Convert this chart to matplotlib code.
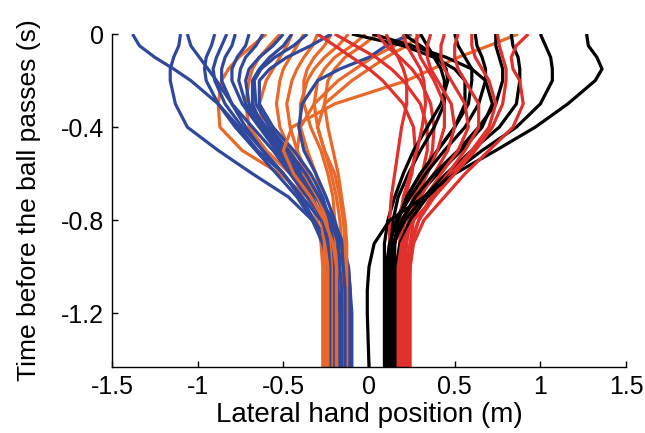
import numpy as np
import matplotlib
matplotlib.use("Agg")
import matplotlib.pyplot as plt

plt.rcParams['font.family'] = ['Liberation Sans', 'DejaVu Sans']

# time levels (s) shared by every trajectory
t = [0, -0.05, -0.1, -0.15, -0.2, -0.3, -0.4, -0.5, -0.6, -0.7, -0.8, -0.9, -1.0, -1.1, -1.2, -1.43]

# lateral hand position (m) at each time level, one row per trial
blue = [
    [-1.38, -1.34, -1.25, -1.14, -1.04, -0.88, -0.76, -0.65, -0.50, -0.40, -0.32, -0.23, -0.18, -0.16, -0.15, -0.15],
    [-1.10, -1.11, -1.14, -1.16, -1.16, -1.13, -1.06, -0.88, -0.68, -0.47, -0.33, -0.26, -0.23, -0.22, -0.21, -0.21],
    [-1.06, -1.04, -0.99, -0.94, -0.89, -0.80, -0.72, -0.62, -0.50, -0.40, -0.32, -0.24, -0.19, -0.18, -0.17, -0.17],
    [-0.90, -0.92, -0.95, -0.96, -0.95, -0.88, -0.78, -0.66, -0.54, -0.42, -0.33, -0.27, -0.24, -0.23, -0.23, -0.23],
    [-0.83, -0.86, -0.89, -0.91, -0.90, -0.84, -0.74, -0.62, -0.50, -0.39, -0.28, -0.19, -0.15, -0.14, -0.13, -0.13],
    [-0.78, -0.80, -0.84, -0.86, -0.86, -0.80, -0.68, -0.56, -0.46, -0.36, -0.26, -0.17, -0.12, -0.11, -0.10, -0.10],
    [-0.70, -0.72, -0.77, -0.80, -0.80, -0.74, -0.64, -0.54, -0.44, -0.34, -0.27, -0.22, -0.20, -0.19, -0.19, -0.19],
    [-0.62, -0.66, -0.72, -0.75, -0.76, -0.72, -0.62, -0.50, -0.40, -0.31, -0.23, -0.16, -0.13, -0.12, -0.12, -0.12],
    [-0.50, -0.56, -0.64, -0.70, -0.72, -0.70, -0.60, -0.48, -0.38, -0.29, -0.21, -0.15, -0.12, -0.11, -0.11, -0.11],
    [-0.45, -0.50, -0.58, -0.64, -0.68, -0.68, -0.62, -0.52, -0.42, -0.33, -0.27, -0.24, -0.22, -0.22, -0.22, -0.22],
    [-0.36, -0.44, -0.55, -0.63, -0.67, -0.66, -0.58, -0.47, -0.37, -0.29, -0.22, -0.18, -0.17, -0.16, -0.16, -0.16],
    [-0.22, -0.34, -0.48, -0.58, -0.64, -0.64, -0.56, -0.44, -0.34, -0.27, -0.23, -0.21, -0.20, -0.20, -0.20, -0.20],
    [0.24, 0.10, 0.00, -0.17, -0.30, -0.39, -0.41, -0.38, -0.31, -0.25, -0.20, -0.16, -0.15, -0.14, -0.14, -0.14],
]

orange = [
    [-0.60, -0.68, -0.76, -0.82, -0.86, -0.88, -0.87, -0.74, -0.52, -0.36, -0.24, -0.19, -0.18, -0.18, -0.18, -0.18],
    [-0.52, -0.58, -0.64, -0.68, -0.70, -0.72, -0.70, -0.60, -0.46, -0.36, -0.30, -0.28, -0.27, -0.27, -0.27, -0.27],
    [-0.45, -0.48, -0.52, -0.56, -0.60, -0.64, -0.62, -0.54, -0.42, -0.33, -0.28, -0.26, -0.25, -0.25, -0.25, -0.25],
    [-0.38, -0.42, -0.46, -0.50, -0.52, -0.54, -0.52, -0.46, -0.38, -0.30, -0.26, -0.25, -0.24, -0.24, -0.24, -0.24],
    [-0.30, -0.33, -0.38, -0.42, -0.45, -0.48, -0.46, -0.42, -0.36, -0.30, -0.25, -0.23, -0.22, -0.22, -0.22, -0.22],
    [-0.22, -0.26, -0.32, -0.36, -0.38, -0.38, -0.34, -0.28, -0.24, -0.21, -0.20, -0.20, -0.20, -0.20, -0.20, -0.20],
    [-0.12, -0.18, -0.26, -0.32, -0.36, -0.40, -0.40, -0.36, -0.31, -0.28, -0.27, -0.26, -0.26, -0.26, -0.26, -0.26],
    [-0.02, -0.10, -0.20, -0.26, -0.30, -0.32, -0.30, -0.26, -0.22, -0.19, -0.17, -0.16, -0.15, -0.15, -0.15, -0.15],
    [0.05, -0.04, -0.14, -0.20, -0.24, -0.26, -0.24, -0.21, -0.18, -0.16, -0.14, -0.13, -0.13, -0.13, -0.13, -0.13],
    [0.25, 0.15, 0.02, -0.08, -0.18, -0.32, -0.40, -0.42, -0.38, -0.30, -0.24, -0.22, -0.21, -0.21, -0.21, -0.21],
    [0.31, 0.22, 0.10, 0.00, -0.10, -0.26, -0.30, -0.26, -0.20, -0.17, -0.15, -0.14, -0.14, -0.14, -0.14, -0.14],
    [0.87, 0.70, 0.52, 0.37, 0.22, -0.20, -0.45, -0.50, -0.44, -0.34, -0.26, -0.21, -0.19, -0.19, -0.19, -0.19],
]

red = [
    [-0.30, -0.20, -0.10, 0.00, 0.08, 0.20, 0.26, 0.27, 0.25, 0.21, 0.17, 0.15, 0.14, 0.14, 0.14, 0.14],
    [-0.20, -0.08, 0.04, 0.13, 0.20, 0.30, 0.34, 0.34, 0.31, 0.26, 0.21, 0.18, 0.16, 0.16, 0.16, 0.16],
    [0.05, 0.10, 0.18, 0.25, 0.30, 0.36, 0.38, 0.37, 0.33, 0.28, 0.23, 0.20, 0.19, 0.19, 0.19, 0.19],
    [0.10, 0.13, 0.17, 0.20, 0.22, 0.22, 0.19, 0.17, 0.15, 0.13, 0.12, 0.12, 0.12, 0.12, 0.12, 0.12],
    [0.20, 0.22, 0.26, 0.30, 0.32, 0.33, 0.31, 0.28, 0.24, 0.20, 0.18, 0.18, 0.18, 0.18, 0.18, 0.18],
    [0.28, 0.28, 0.30, 0.34, 0.38, 0.44, 0.44, 0.40, 0.34, 0.28, 0.24, 0.22, 0.21, 0.21, 0.21, 0.21],
    [0.36, 0.34, 0.34, 0.36, 0.40, 0.48, 0.50, 0.46, 0.38, 0.30, 0.26, 0.24, 0.23, 0.23, 0.23, 0.23],
    [0.44, 0.42, 0.42, 0.44, 0.48, 0.56, 0.58, 0.52, 0.42, 0.33, 0.25, 0.21, 0.20, 0.20, 0.20, 0.20],
    [0.52, 0.50, 0.50, 0.52, 0.56, 0.64, 0.64, 0.56, 0.46, 0.36, 0.29, 0.25, 0.24, 0.24, 0.24, 0.24],
    [0.60, 0.60, 0.62, 0.66, 0.70, 0.74, 0.70, 0.60, 0.48, 0.38, 0.29, 0.24, 0.22, 0.22, 0.22, 0.22],
    [0.75, 0.76, 0.78, 0.80, 0.80, 0.78, 0.72, 0.62, 0.50, 0.38, 0.26, 0.19, 0.17, 0.17, 0.17, 0.17],
    [0.93, 0.86, 0.83, 0.84, 0.88, 0.90, 0.84, 0.70, 0.56, 0.44, 0.32, 0.26, 0.24, 0.23, 0.23, 0.23],
]

black = [
    [-0.10, 0.20, 0.38, 0.50, 0.56, 0.56, 0.50, 0.40, 0.30, 0.22, 0.16, 0.12, 0.10, 0.10, 0.10, 0.10],
    [0.02, 0.25, 0.45, 0.60, 0.68, 0.72, 0.66, 0.54, 0.40, 0.28, 0.19, 0.14, 0.12, 0.12, 0.12, 0.12],
    [0.20, 0.30, 0.40, 0.45, 0.46, 0.42, 0.34, 0.26, 0.20, 0.15, 0.11, 0.09, 0.09, 0.09, 0.09, 0.09],
    [0.30, 0.34, 0.38, 0.42, 0.44, 0.44, 0.38, 0.30, 0.23, 0.17, 0.14, 0.13, 0.13, 0.13, 0.13, 0.13],
    [0.50, 0.52, 0.56, 0.60, 0.60, 0.58, 0.50, 0.40, 0.30, 0.22, 0.17, 0.15, 0.15, 0.15, 0.15, 0.15],
    [0.62, 0.63, 0.66, 0.68, 0.68, 0.64, 0.56, 0.44, 0.33, 0.24, 0.16, 0.12, 0.11, 0.11, 0.11, 0.11],
    [0.74, 0.74, 0.76, 0.78, 0.78, 0.74, 0.64, 0.52, 0.38, 0.27, 0.19, 0.15, 0.14, 0.14, 0.14, 0.14],
    [0.83, 0.84, 0.87, 0.88, 0.88, 0.86, 0.76, 0.60, 0.45, 0.32, 0.21, 0.14, 0.12, 0.12, 0.12, 0.12],
    [1.00, 1.03, 1.06, 1.07, 1.07, 1.00, 0.86, 0.66, 0.48, 0.34, 0.24, 0.18, 0.16, 0.16, 0.16, 0.16],
    [1.27, 1.28, 1.33, 1.36, 1.32, 1.16, 0.97, 0.74, 0.50, 0.32, 0.12, 0.03, 0.00, -0.01, -0.01, 0.00],
]

c_blue, c_orange, c_red, c_black = '#30489c', '#e8692a', '#e0312c', '#000000'

fig = plt.figure(figsize=(6.45, 4.33), dpi=100)
ax = fig.add_axes([0.1736, 0.1524, 0.797, 0.769])

# interleave the two groups on each side so neither colour sits fully on top
def draw_pair(a, ca, b, cb):
    n = max(len(a), len(b))
    for i in range(n):
        if i < len(a):
            ax.plot(a[i], t, color=ca, linewidth=2.3, solid_capstyle='butt')
        if i < len(b):
            ax.plot(b[i], t, color=cb, linewidth=2.3, solid_capstyle='butt')

draw_pair(blue, c_blue, orange, c_orange)
draw_pair(red, c_red, black, c_black)

ax.set_xlim(-1.5, 1.5)
ax.set_ylim(-1.43, 0)
ax.set_xticks([-1.5, -1, -0.5, 0, 0.5, 1, 1.5])
ax.set_xticklabels(['-1.5', '-1', '-0.5', '0', '0.5', '1', '1.5'])
ax.set_yticks([-1.2, -0.8, -0.4, 0])
ax.set_yticklabels(['-1.2', '-0.8', '-0.4', '0'])
ax.spines['top'].set_visible(False)
ax.spines['right'].set_visible(False)
for s in ['left', 'bottom']:
    ax.spines[s].set_linewidth(1.0)
ax.tick_params(direction='in', length=4, width=1.0, labelsize=18, pad=6)
ax.set_xlabel('Lateral hand position (m)', fontsize=20, labelpad=2)
ax.set_ylabel('Time before the ball passes (s)', fontsize=19, labelpad=14)

fig.savefig('out.png', dpi=100)
